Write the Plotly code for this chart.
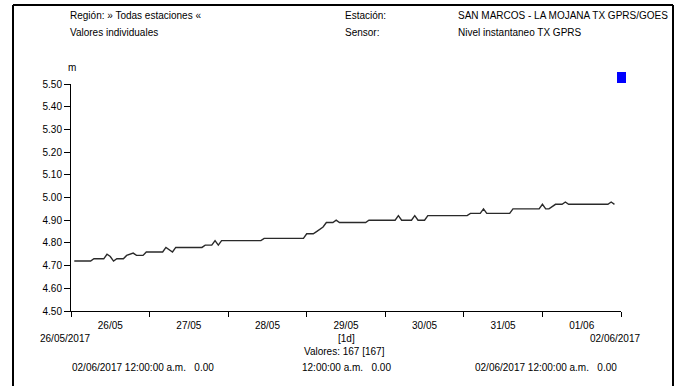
import pandas as pd
import plotly.graph_objects as go

# hourly water level readings, 26/05/2017 01:00 -> 01/06/2017 23:00 (167 values)
nivel = [
    4.72, 4.72, 4.72, 4.72, 4.72, 4.72, 4.73, 4.73, 4.73, 4.73, 4.75, 4.74,
    4.72, 4.73, 4.73, 4.73, 4.745, 4.75, 4.755, 4.745, 4.745, 4.745, 4.76, 4.76,
    4.76, 4.76, 4.76, 4.76, 4.78, 4.77, 4.76, 4.78, 4.78, 4.78, 4.78, 4.78,
    4.78, 4.78, 4.78, 4.78, 4.79, 4.79, 4.79, 4.81, 4.79, 4.81, 4.81, 4.81,
    4.81, 4.81, 4.81, 4.81, 4.81, 4.81, 4.81, 4.81, 4.81, 4.81, 4.82, 4.82,
    4.82, 4.82, 4.82, 4.82, 4.82, 4.82, 4.82, 4.82, 4.82, 4.82, 4.82, 4.84,
    4.84, 4.84, 4.85, 4.86, 4.87, 4.89, 4.89, 4.89, 4.90, 4.89, 4.89, 4.89,
    4.89, 4.89, 4.89, 4.89, 4.89, 4.89, 4.90, 4.90, 4.90, 4.90, 4.90, 4.90,
    4.90, 4.90, 4.90, 4.92, 4.90, 4.90, 4.90, 4.90, 4.92, 4.90, 4.90, 4.90,
    4.92, 4.92, 4.92, 4.92, 4.92, 4.92, 4.92, 4.92, 4.92, 4.92, 4.92, 4.92,
    4.92, 4.93, 4.93, 4.93, 4.93, 4.95, 4.93, 4.93, 4.93, 4.93, 4.93, 4.93,
    4.93, 4.93, 4.95, 4.95, 4.95, 4.95, 4.95, 4.95, 4.95, 4.95, 4.95, 4.97,
    4.95, 4.95, 4.96, 4.97, 4.97, 4.97, 4.98, 4.97, 4.97, 4.97, 4.97, 4.97,
    4.97, 4.97, 4.97, 4.97, 4.97, 4.97, 4.97, 4.97, 4.98, 4.97,
]
horas = pd.date_range("2017-05-26 01:00", periods=len(nivel), freq="h")

y_ticks = [4.50, 4.60, 4.70, 4.80, 4.90, 5.00, 5.10, 5.20, 5.30, 5.40, 5.50]
x_inicio = "2017-05-26 00:00"
x_fin = "2017-06-02 00:00"

FONT = "Liberation Sans, Arial, sans-serif"
FS = 10

# plot area in pixels (for placing the text around it)
L, R, T, B = 71, 621, 84, 311


def px(x):
    return (x - L) / (R - L)


def py(y):
    return (B - y) / (B - T)


fig = go.Figure()
fig.add_trace(
    go.Scatter(
        x=horas,
        y=nivel,
        mode="lines",
        line=dict(color="#2a2a2a", width=1.4),
        showlegend=False,
        hoverinfo="skip",
    )
)

textos = [
    ("Región: » Todas estaciones «", 68, 16, "left"),
    ("Valores individuales", 68, 32, "left"),
    ("Estación:", 343, 16, "left"),
    ("Sensor:", 343, 32, "left"),
    ("SAN MARCOS - LA MOJANA TX GPRS/GOES", 456, 16, "left"),
    ("Nivel instantaneo TX GPRS", 456, 32, "left"),
    ("m", 72, 68, "center"),
    ("26/05/2017", 38, 338, "left"),
    ("02/06/2017", 642, 338, "right"),
    ("[1d]", 346, 338, "center"),
    ("Valores: 167 [167]", 344, 351, "center"),
    ("02/06/2017 12:00:00 a.m.\u00a0\u00a0\u00a00.00", 70, 367, "left"),
    ("12:00:00 a.m.\u00a0\u00a0\u00a00.00", 346, 367, "center"),
    ("02/06/2017 12:00:00 a.m.\u00a0\u00a0\u00a00.00", 619, 367, "right"),
]
for txt, x, y, anchor in textos:
    fig.add_annotation(
        text=txt,
        x=px(x),
        y=py(y),
        xref="paper",
        yref="paper",
        xanchor=anchor,
        yanchor="middle",
        showarrow=False,
        font=dict(family=FONT, size=FS, color="black"),
    )

# outer frame (left, top, right)
for x0, y0, x1, y1 in [(13, 5, 13, 386), (13, 5, 673, 5), (673, 5, 673, 386)]:
    fig.add_shape(
        type="line",
        xref="paper",
        yref="paper",
        x0=px(x0),
        x1=px(x1),
        y0=py(y0),
        y1=py(y1),
        line=dict(color="black", width=2),
        layer="above",
    )
# blue legend square
fig.add_shape(
    type="rect",
    xref="paper",
    yref="paper",
    x0=px(617),
    x1=px(626),
    y0=py(83),
    y1=py(72),
    fillcolor="#0000ff",
    line=dict(color="#0000ff", width=0),
)

fig.update_xaxes(
    type="date",
    range=[x_inicio, x_fin],
    tick0=x_inicio,
    dtick=86400000,
    tickformat="%d/%m",
    ticklabelmode="period",
    ticks="outside",
    ticklen=5,
    tickcolor="black",
    showline=True,
    linecolor="black",
    linewidth=1,
    showgrid=False,
    zeroline=False,
    tickfont=dict(family=FONT, size=FS, color="black"),
)
fig.update_yaxes(
    range=[4.50, 5.50],
    tickvals=y_ticks,
    tickformat=".2f",
    ticks="outside",
    ticklen=6,
    tickcolor="black",
    showline=True,
    linecolor="black",
    linewidth=1,
    showgrid=False,
    zeroline=False,
    tickfont=dict(family=FONT, size=FS, color="black"),
)
fig.update_layout(
    width=684,
    height=386,
    margin=dict(l=L, r=684 - R, t=T, b=386 - B, autoexpand=False),
    paper_bgcolor="white",
    plot_bgcolor="white",
    showlegend=False,
)

fig.write_html(
    "out.html",
    config={"displayModeBar": False},
    post_script="document.body.style.margin='0';",
)
